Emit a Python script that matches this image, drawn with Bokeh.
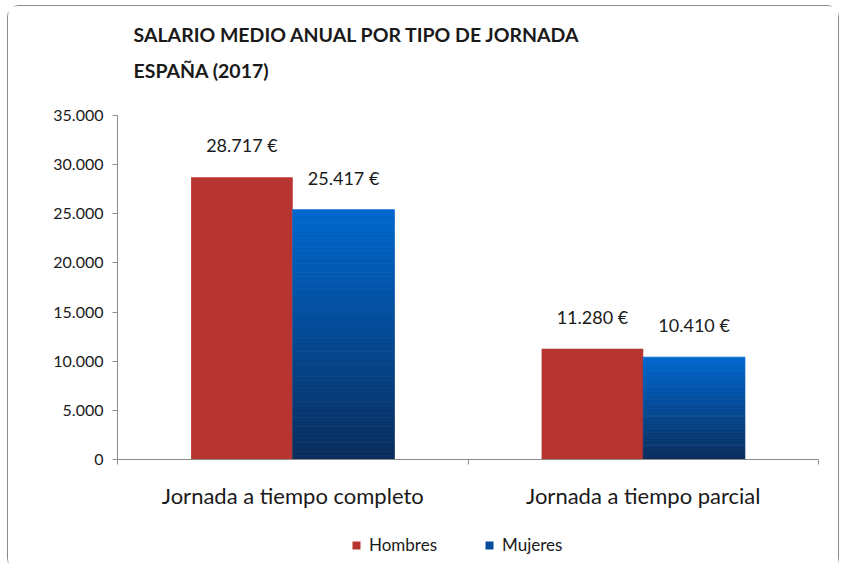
from bokeh.plotting import figure
from bokeh.models import (ColumnDataSource, FixedTicker, Range1d, Label, Legend, LegendItem)
from bokeh.core.properties import value
from bokeh.embed import file_html
from bokeh.resources import INLINE

# ---- data ----
categories = ["Jornada a tiempo completo", "Jornada a tiempo parcial"]
series_names = ["Hombres", "Mujeres"]
hombres = [28717, 11280]
mujeres = [25417, 10410]
y_ticks = [0, 5000, 10000, 15000, 20000, 25000, 30000, 35000]
y_tick_labels = ["0", "5.000", "10.000", "15.000", "20.000", "25.000", "30.000", "35.000"]
title_lines = ["SALARIO MEDIO ANUAL POR TIPO DE JORNADA", "ESPAÑA (2017)"]

FONT = "Lato"
RED = "#B83430"
BLUE_TOP = (0x00, 0x67, 0xCE)
BLUE_BOT = (0x0A, 0x2D, 0x5C)
TXT = "#1a1a1a"
AXIS = "#8c8c8c"

# ---- layout (pixels inside the canvas) ----
W, H = 832, 565
AX_LEFT, AX_RIGHT = 109, 810      # x-axis extent
AX_TOP, AX_BOTTOM = 109, 453      # y of max tick / y of zero
YMAX = y_ticks[-1]
n = len(categories)
ux = (AX_RIGHT - AX_LEFT) / n     # px per category
uy = (AX_BOTTOM - AX_TOP) / YMAX  # px per unit

p = figure(width=W, height=H, output_backend="svg", toolbar_location=None,
           x_range=Range1d(-AX_LEFT / ux, (W - AX_LEFT) / ux),
           y_range=Range1d(-(H - AX_BOTTOM) / uy, AX_BOTTOM / uy),
           min_border=0)
p.styles = {"border": "1px solid #8a8a8a", "border-radius": "12px",
            "margin-left": "7px", "margin-top": "5px"}
p.outline_line_color = None
p.xgrid.grid_line_color = None
p.ygrid.grid_line_color = None
p.background_fill_color = "white"
p.border_fill_color = "white"

bw = 0.29
xs = list(range(n))
xr = [i + 0.5 - bw / 2 for i in xs]
xb = [i + 0.5 + bw / 2 for i in xs]

# Hombres bars
p.vbar(x=xr, top=hombres, width=bw, bottom=0, fill_color=RED, line_color=None)

# Mujeres bars with vertical gradient (stacked slices)
N = 60
gx, gb, gt, gc = [], [], [], []
for x, v in zip(xb, mujeres):
    for k in range(N):
        f = (k + 0.5) / N
        r = round(BLUE_BOT[0] + (BLUE_TOP[0] - BLUE_BOT[0]) * f)
        g = round(BLUE_BOT[1] + (BLUE_TOP[1] - BLUE_BOT[1]) * f)
        b = round(BLUE_BOT[2] + (BLUE_TOP[2] - BLUE_BOT[2]) * f)
        gx.append(x); gb.append(v * k / N); gt.append(v * (k + 1) / N)
        gc.append("#%02x%02x%02x" % (r, g, b))
p.vbar(x="x", bottom="b", top="t", width=bw, fill_color="c", line_color="c", line_width=0.8,
       source=ColumnDataSource(dict(x=gx, b=gb, t=gt, c=gc)))

# data labels
def fmt(v):
    return f"{v:,}".replace(",", ".") + " €"

p.text(x=xr + xb, y=hombres + mujeres, text=[fmt(v) for v in hombres + mujeres],
       text_font=value(FONT), text_font_size="18px", text_color=TXT,
       text_align="center", text_baseline="middle", y_offset=-32)

# axes (fixed at zero so the frame can span the whole canvas)
p.yaxis.fixed_location = 0
p.yaxis.bounds = (0, YMAX)
p.yaxis.ticker = FixedTicker(ticks=y_ticks, minor_ticks=[])
p.yaxis.major_label_overrides = {t: l for t, l in zip(y_ticks, y_tick_labels)}
p.yaxis.major_label_text_font = FONT
p.yaxis.major_label_text_font_size = "16px"
p.yaxis.major_label_text_color = TXT
p.yaxis.axis_line_color = AXIS
p.yaxis.major_tick_line_color = AXIS
p.yaxis.major_tick_out = 5
p.yaxis.major_tick_in = 0
p.yaxis.minor_tick_line_color = None
p.yaxis.major_label_standoff = 9

p.xaxis.fixed_location = 0
p.xaxis.bounds = (0, n)
p.xaxis.ticker = FixedTicker(ticks=[i + 0.5 for i in xs], minor_ticks=list(range(n + 1)))
p.xaxis.major_label_overrides = {i + 0.5: c for i, c in zip(xs, categories)}
p.xaxis.major_label_text_font = FONT
p.xaxis.major_label_text_font_size = "22px"
p.xaxis.major_label_text_color = TXT
p.xaxis.axis_line_color = AXIS
p.xaxis.major_tick_line_color = None
p.xaxis.minor_tick_line_color = AXIS
p.xaxis.minor_tick_out = 5
p.xaxis.minor_tick_in = 0
p.xaxis.major_label_standoff = 16

# title
for i, line in enumerate(title_lines):
    p.add_layout(Label(x=125, y=H - 28 - 36 * i, x_units="screen", y_units="screen", text=line,
                       text_font=FONT, text_font_style="bold", text_font_size="19.5px",
                       text_color=TXT, text_baseline="middle"))

# legend
r1 = p.vbar(x=[0], top=[0], width=0, fill_color=RED, line_color=None)
r2 = p.vbar(x=[0], top=[0], width=0, fill_color="#054c9c", line_color=None)
leg = Legend(items=[LegendItem(label=series_names[0], renderers=[r1]),
                    LegendItem(label=series_names[1], renderers=[r2])],
             orientation="horizontal", location=(343, 16),
             glyph_width=10, glyph_height=10, label_standoff=8, spacing=47,
             padding=0, margin=0, border_line_color=None, background_fill_alpha=0,
             label_text_font=FONT, label_text_font_size="17px", label_text_color=TXT)
p.add_layout(leg, "center")

open("out.html", "w").write(file_html(p, INLINE))
